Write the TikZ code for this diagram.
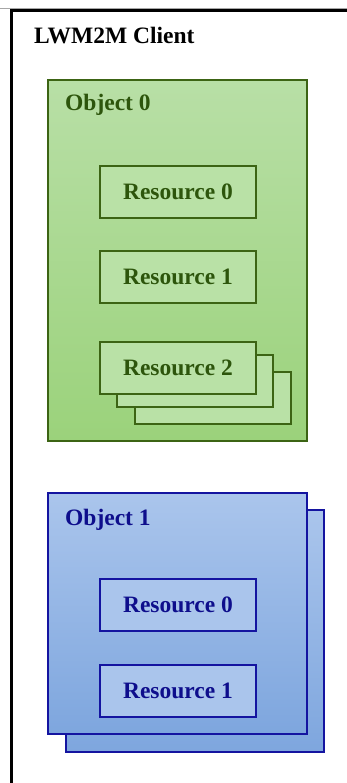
\documentclass[tikz,border=0pt]{standalone}
\usepackage{fontspec}
\setmainfont{Liberation Serif}
\definecolor{gline}{RGB}{60,100,20}
\definecolor{gtop}{RGB}{184,223,166}
\definecolor{gbot}{RGB}{155,210,123}
\definecolor{gres}{RGB}{185,225,166}
\definecolor{gtext}{RGB}{45,85,12}
\definecolor{bline}{RGB}{20,20,160}
\definecolor{btop}{RGB}{170,197,236}
\definecolor{bbot}{RGB}{126,166,222}
\definecolor{bres}{RGB}{170,197,236}
\definecolor{btext}{RGB}{14,14,140}
\tikzset{
  lbl/.style={font=\bfseries\fontsize{23.5}{28}\selectfont, inner sep=0pt},
  box/.style={rectangle, anchor=north west, inner sep=0pt, outer sep=0pt},
  gobj/.style={box, draw=gline, line width=1.6pt, top color=gtop, bottom color=gbot},
  gresbox/.style={box, draw=gline, line width=1.4pt, fill=gres, text=gtext, lbl,
    minimum width=156, minimum height=52},
  bobj/.style={box, draw=bline, line width=1.6pt, top color=btop, bottom color=bbot},
  bresbox/.style={box, draw=bline, line width=1.4pt, fill=bres, text=btext, lbl,
    minimum width=156, minimum height=52},
}
\begin{document}
\begin{tikzpicture}[x=1pt, y=-1pt]
  \useasboundingbox (0,0) rectangle (347,783);
  % client frame, open to the right and bottom
  \draw[gray!70, line width=0.8pt] (0,8) -- (347,8);
  \coordinate (fbl) at (11.6,790);
  \coordinate (ftl) at (11.6,10.8);
  \coordinate (ftr) at (350,10.8);
  \draw[black, line width=3pt] (fbl) -- (ftl) -- (ftr);
  \node[lbl, anchor=base west] (client) at (34,43.6) {LWM2M Client};

  % Object 0 with its resources
  \node[gobj, minimum width=259, minimum height=361] (obj0) at (48,80) {};
  \node[lbl, text=gtext, anchor=base west] (obj0lbl) at (65,111) {Object 0};
  \node[gresbox] (g00) at (100,166) {Resource 0};
  \node[gresbox] (g01) at (100,251) {Resource 1};
  \node[gresbox] (g02c) at (135,372) {};
  \node[gresbox] (g02b) at (117,355) {};
  \node[gresbox] (g02) at (100,342) {Resource 2};

  % Object 1 (multiple instances) with its resources
  \node[bobj, minimum width=258, minimum height=242] (obj1b) at (66,510) {};
  \node[bobj, minimum width=259, minimum height=241] (obj1) at (48,493) {};
  \node[lbl, text=btext, anchor=base west] (obj1lbl) at (65,525) {Object 1};
  \node[bresbox] (b10) at (100,579) {Resource 0};
  \node[bresbox] (b11) at (100,665) {Resource 1};
\end{tikzpicture}
\end{document}
